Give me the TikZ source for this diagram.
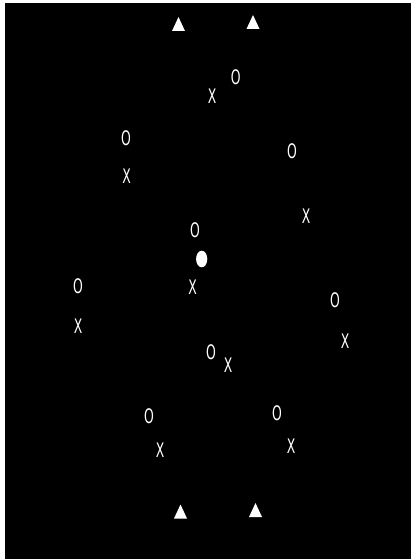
\documentclass[tikz,border=0pt]{standalone}
\usepackage{fontspec}
\setmainfont{DejaVu Sans}
\usetikzlibrary{shapes.geometric}
\newcommand{\mk}[1]{\scalebox{0.62}[1]{#1}}
\tikzset{
  glyph/.style={text=white, inner sep=0pt, outer sep=0pt, font=\fontsize{20}{20}\selectfont},
  tri/.pic={\fill[white] (-6.5,7) -- (6.5,7) -- (0,-7) -- cycle;}
}
\begin{document}
\begin{tikzpicture}[x=1pt,y=-1pt]
\useasboundingbox (0,0) rectangle (411,559);
\fill[white] (0,0) rectangle (411,559);
\fill[black] (5,3) rectangle (411,559);
% triangles
\pic at (178.5,24) {tri};
\pic at (253,22) {tri};
\pic at (180.5,511.5) {tri};
\pic at (255.5,510) {tri};
% marks
\node[glyph] (o1) at (235.7,77.5) {\mk{O}};
\node[glyph] (x1) at (212,96.5) {\mk{X}};
\node[glyph] (o2) at (126,138.5) {\mk{O}};
\node[glyph] (x2) at (126.7,176.5) {\mk{X}};
\node[glyph] (o3) at (292,151.5) {\mk{O}};
\node[glyph] (x3) at (306,216) {\mk{X}};
\node[glyph] (o4) at (195,230.5) {\mk{O}};
\node[glyph] (x4) at (192.7,287) {\mk{X}};
\node[glyph] (o5) at (78,286) {\mk{O}};
\node[glyph] (x5) at (78,326) {\mk{X}};
\node[glyph] (o6) at (335,300.5) {\mk{O}};
\node[glyph] (x6) at (345,341) {\mk{X}};
\node[glyph] (o7) at (211,352.5) {\mk{O}};
\node[glyph] (x7) at (228,365.5) {\mk{X}};
\node[glyph] (o8) at (149,416.5) {\mk{O}};
\node[glyph] (x8) at (160,450.5) {\mk{X}};
\node[glyph] (o9) at (277,413.5) {\mk{O}};
\node[glyph] (x9) at (291,446) {\mk{X}};
% filled dot
\fill[white] (201.7,259) ellipse [x radius=5.6, y radius=8.3];
\end{tikzpicture}
\end{document}
